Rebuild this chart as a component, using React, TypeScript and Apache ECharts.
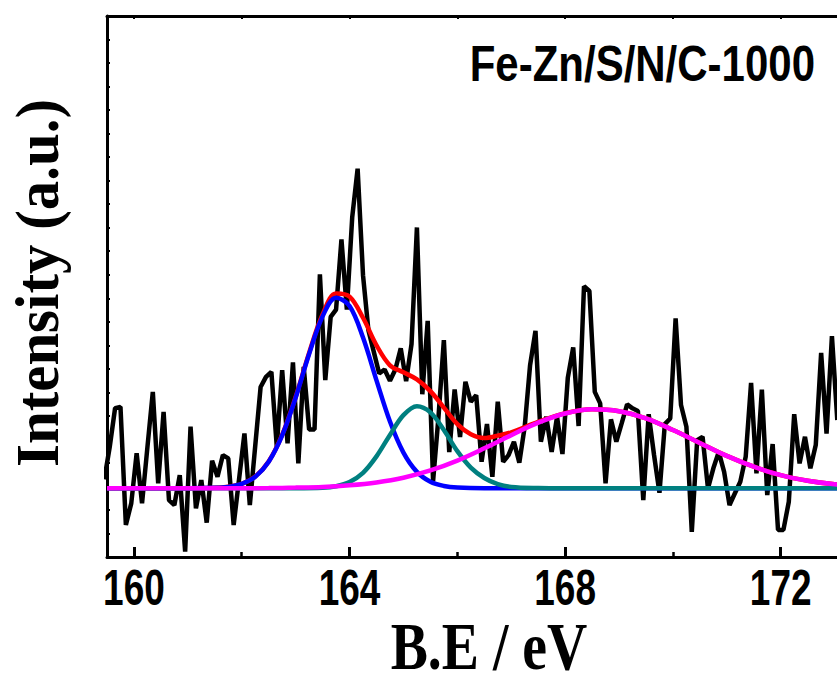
import React, { useEffect, useRef } from "react";
import * as echarts from "echarts";

// Raw XPS S 2p spectrum (binding energy in eV, intensity in a.u.)
const energy = [
  159.45, 159.55, 159.65, 159.75, 159.85, 159.95, 160.05, 160.15, 160.25, 160.35,
  160.45, 160.55, 160.65, 160.75, 160.85, 160.95, 161.05, 161.15, 161.25, 161.35,
  161.45, 161.55, 161.65, 161.75, 161.85, 161.95, 162.05, 162.15, 162.25, 162.35,
  162.45, 162.55, 162.65, 162.75, 162.85, 162.95, 163.05, 163.15, 163.25, 163.35,
  163.45, 163.55, 163.65, 163.75, 163.85, 163.95, 164.05, 164.15, 164.25, 164.35,
  164.45, 164.55, 164.65, 164.75, 164.85, 164.95, 165.05, 165.15, 165.25, 165.35,
  165.45, 165.55, 165.65, 165.75, 165.85, 165.95, 166.05, 166.15, 166.25, 166.35,
  166.45, 166.55, 166.65, 166.75, 166.85, 166.95, 167.05, 167.15, 167.25, 167.35,
  167.45, 167.55, 167.65, 167.75, 167.85, 167.95, 168.05, 168.15, 168.25, 168.35,
  168.45, 168.55, 168.65, 168.75, 168.85, 168.95, 169.05, 169.15, 169.25, 169.35,
  169.45, 169.55, 169.65, 169.75, 169.85, 169.95, 170.05, 170.15, 170.25, 170.35,
  170.45, 170.55, 170.65, 170.75, 170.85, 170.95, 171.05, 171.15, 171.25, 171.35,
  171.45, 171.55, 171.65, 171.75, 171.85, 171.95, 172.05, 172.15, 172.25, 172.35,
  172.45, 172.55, 172.65, 172.75, 172.85, 172.95, 173.05,
];
const intensity = [
  3.30, 4.67, 6.33, 6.38, 1.36, 2.28, 4.41, 2.28, 4.67, 7.02,
  3.13, 6.17, 2.42, 2.21, 3.48, 0.23, 5.54, 2.07, 3.27, 1.46,
  4.09, 3.41, 4.33, 4.19, 1.36, 3.31, 5.25, 2.21, 4.72, 7.23,
  7.66, 7.87, 4.69, 7.94, 4.83, 8.27, 3.98, 8.08, 5.42, 5.42,
  12.02, 7.52, 10.21, 10.52, 13.50, 10.52, 14.46, 16.51, 11.98, 9.64,
  8.72, 7.80, 7.97, 7.49, 7.97, 8.87, 7.48, 9.05, 14.01, 6.92,
  10.04, 3.23, 5.95, 9.22, 4.46, 7.12, 5.10, 7.45, 6.60, 6.88,
  4.05, 5.65, 3.41, 6.60, 4.05, 4.33, 4.90, 4.01, 5.54, 8.16,
  9.61, 4.90, 5.96, 4.47, 5.96, 4.38, 7.63, 8.91, 5.57, 11.51,
  11.31, 7.02, 6.53, 3.13, 5.85, 4.90, 5.69, 6.49, 6.32, 6.21,
  2.42, 6.07, 4.33, 2.73, 5.65, 5.89, 10.14, 6.46, 5.54, 1.07,
  4.97, 5.11, 2.92, 3.77, 4.47, 3.62, 2.21, 2.71, 3.20, 4.26,
  7.40, 3.56, 7.12, 2.63, 4.80, 1.15, 1.15, 2.35, 6.07, 3.98,
  5.11, 3.77, 4.76, 8.68, 5.25, 9.39, 5.82,
];

// Fitted envelope (red)
const envelopeE = [159.5, 161.0, 161.5, 161.75, 162.0, 162.25, 162.5, 162.75, 163.0, 163.25, 163.5, 163.75, 164.0, 164.25, 164.5, 164.75, 165.0, 165.25, 165.5, 165.75, 166.0, 166.25, 166.5, 166.75, 167.0, 167.5, 168.0, 168.5, 169.0, 169.5, 170.0, 170.5, 171.0, 171.5, 172.0, 172.5, 173.0, 173.5];
const envelopeI = [2.92, 2.92, 2.94, 2.99, 3.11, 3.42, 4.06, 5.19, 6.80, 8.68, 10.31, 11.20, 11.07, 10.17, 9.0, 8.15, 7.85, 7.55, 7.05, 6.35, 5.65, 5.22, 5.06, 5.16, 5.30, 5.74, 6.11, 6.28, 6.20, 5.89, 5.40, 4.85, 4.30, 3.84, 3.48, 3.24, 3.09, 3.01];

// Component 1 (blue)
const peak1E = [159.5, 161.0, 161.5, 161.75, 162.0, 162.25, 162.5, 162.75, 163.0, 163.25, 163.5, 163.75, 164.0, 164.25, 164.5, 164.75, 165.0, 165.25, 165.5, 165.75, 166.0, 166.5, 168.0, 173.5];
const peak1I = [2.92, 2.92, 2.94, 2.98, 3.11, 3.41, 4.05, 5.17, 6.77, 8.63, 10.23, 11.02, 10.67, 9.33, 7.51, 5.76, 4.44, 3.62, 3.20, 3.02, 2.95, 2.92, 2.92, 2.92];

// Component 2 (teal)
const peak2E = [159.5, 162.5, 163.0, 163.5, 163.75, 164.0, 164.25, 164.5, 164.75, 165.0, 165.25, 165.5, 165.75, 166.0, 166.25, 166.5, 166.75, 167.0, 167.5, 168.0, 173.5];
const peak2I = [2.92, 2.92, 2.92, 2.94, 3.01, 3.19, 3.58, 4.28, 5.19, 6.03, 6.41, 6.15, 5.40, 4.50, 3.80, 3.36, 3.10, 2.98, 2.93, 2.92, 2.92];

// Component 3 (magenta)
const peak3E = [159.5, 161.0, 162.0, 162.5, 163.0, 163.5, 164.0, 164.5, 165.0, 165.5, 166.0, 166.5, 167.0, 167.5, 168.0, 168.5, 169.0, 169.5, 170.0, 170.5, 171.0, 171.5, 172.0, 172.5, 173.0, 173.5];
const peak3I = [2.92, 2.92, 2.92, 2.93, 2.95, 2.98, 3.05, 3.17, 3.37, 3.68, 4.10, 4.62, 5.18, 5.71, 6.10, 6.28, 6.20, 5.89, 5.40, 4.85, 4.30, 3.84, 3.48, 3.24, 3.09, 3.01];

const majorTicks = [160, 164, 168, 172];
const minorTicks = [162, 166, 170];
const topTicks = [160, 162, 164, 166, 168, 170, 172];

const sampleLabel = "Fe-Zn/S/N/C-1000";
const xTitle = "B.E / eV";
const yTitle = "Intensity (a.u.)";

const zip = (a: number[], b: number[]) => a.map((v, i) => [v, b[i]]);

export default function App() {
  const ref = useRef<HTMLDivElement>(null);
  useEffect(() => {
    if (!ref.current) return;
    const chart = echarts.init(ref.current, null, { renderer: "svg" });
    const xMin = 159.5;
    const xMax = 173.2;
    const sans = "'Liberation Sans', Arial, sans-serif";
    const serif = "'Liberation Serif', 'Times New Roman', serif";
    const fitLine = (color: string, data: number[][]) => ({
      type: "line",
      data,
      showSymbol: false,
      smooth: 0.35,
      lineStyle: { color, width: 4.5 },
      silent: true,
    });
    const baseGraphic: any[] = [
      {
        type: "text",
        x: 815,
        y: 64,
        scaleX: 0.84,
        style: {
          text: sampleLabel,
          align: "right",
          verticalAlign: "middle",
          fill: "#000",
          font: `bold 50px ${sans}`,
        },
      },
      {
        type: "text",
        x: 489,
        y: 646,
        scaleX: 0.82,
        style: {
          text: xTitle,
          align: "center",
          verticalAlign: "middle",
          fill: "#000",
          font: `bold 68px ${serif}`,
        },
      },
      {
        type: "text",
        x: 37,
        y: 283,
        rotation: Math.PI / 2,
        scaleX: 0.95,
        style: {
          text: yTitle,
          align: "center",
          verticalAlign: "middle",
          fill: "#000",
          font: `bold 62px ${serif}`,
        },
      },
    ];
    chart.setOption({
      animation: false,
      backgroundColor: "#ffffff",
      grid: { left: 107, top: 16, width: 738.4, height: 541, outerBoundsMode: "none" },
      xAxis: [
        {
          type: "value",
          min: xMin,
          max: xMax,
          position: "bottom",
          axisLine: { show: true, onZero: false, lineStyle: { color: "#000", width: 3 } },
          axisTick: { show: true, inside: true, length: 10, customValues: majorTicks, lineStyle: { color: "#000", width: 3 } },
          axisLabel: { show: false },
          splitLine: { show: false },
        },
        {
          type: "value",
          min: xMin,
          max: xMax,
          position: "bottom",
          axisLine: { show: false },
          axisTick: { show: true, inside: true, length: 5, customValues: minorTicks, lineStyle: { color: "#000", width: 2.5 } },
          axisLabel: { show: false },
          splitLine: { show: false },
        },
        {
          type: "value",
          min: xMin,
          max: xMax,
          position: "top",
          axisLine: { show: true, onZero: false, lineStyle: { color: "#000", width: 3 } },
          axisTick: { show: true, inside: true, length: 3, customValues: topTicks, lineStyle: { color: "#000", width: 2 } },
          axisLabel: { show: false },
          splitLine: { show: false },
        },
      ],
      yAxis: {
        type: "value",
        min: 0,
        max: 23,
        interval: 1,
        axisLine: { show: true, onZero: false, lineStyle: { color: "#000", width: 3 } },
        axisTick: { show: true, inside: true, length: 3, lineStyle: { color: "#000", width: 2 } },
        axisLabel: { show: false },
        splitLine: { show: false },
      },
      series: [
        {
          type: "line",
          data: zip(energy, intensity),
          showSymbol: false,
          lineStyle: { color: "#000000", width: 4.5 },
          silent: true,
        },
        fitLine("#ff0000", zip(envelopeE, envelopeI)),
        fitLine("#0000ff", zip(peak1E, peak1I)),
        fitLine("#008080", zip(peak2E, peak2I)),
        fitLine("#ff00ff", zip(peak3E, peak3I)),
      ],
      graphic: baseGraphic,
    });
    // Condensed tick labels placed through the axis scale
    const tickLabels = majorTicks.map((v) => ({
      type: "text",
      x: chart.convertToPixel({ xAxisIndex: 0 }, v) as number,
      y: 587,
      scaleX: 0.74,
      style: {
        text: String(v),
        align: "center",
        verticalAlign: "middle",
        fill: "#000",
        font: `bold 50px ${sans}`,
      },
    }));
    chart.setOption({ graphic: [...baseGraphic, ...tickLabels] });
    return () => chart.dispose();
  }, []);
  return (
    <div
      ref={ref}
      style={{ position: "absolute", left: 0, top: 0, width: 837, height: 689, overflow: "hidden", background: "#fff" }}
    />
  );
}
